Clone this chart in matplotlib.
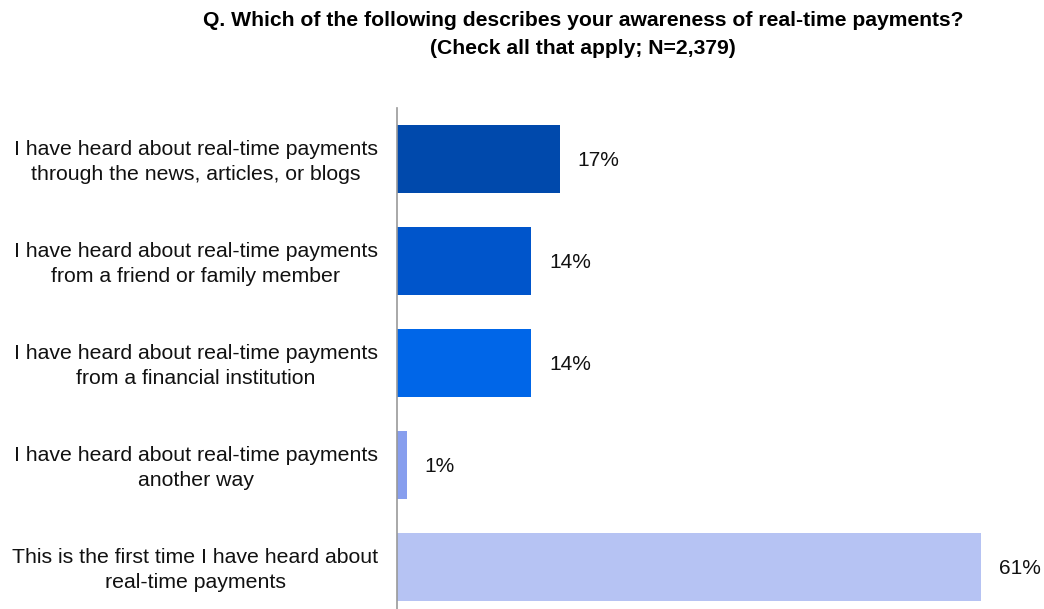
import matplotlib
matplotlib.use("Agg")
import matplotlib.pyplot as plt

categories = [
    "I have heard about real-time payments\nthrough the news, articles, or blogs",
    "I have heard about real-time payments\nfrom a friend or family member",
    "I have heard about real-time payments\nfrom a financial institution",
    "I have heard about real-time payments\nanother way",
    "This is the first time I have heard about\nreal-time payments",
]
values = [17, 14, 14, 1, 61]
value_labels = ["17%", "14%", "14%", "1%", "61%"]
colors = ["#0049AC", "#0055CB", "#0066E8", "#879EEE", "#B6C3F3"]

title = ("Q. Which of the following describes your awareness of real-time payments?\n"
         "(Check all that apply; N=2,379)")

W, H = 1044, 609
fig = plt.figure(figsize=(W / 100, H / 100), dpi=100)
fig.patch.set_facecolor("white")

# axes from the baseline line at x=397 to the right edge
left_px, top_px, bottom_px = 397, 108, 618
ax = fig.add_axes([left_px / W, (H - bottom_px) / H, (W - left_px) / W, (bottom_px - top_px) / H])

n = len(values)
pos = list(range(n))
ax.barh(pos, values, height=0.667, color=colors, zorder=2)
ax.set_ylim(n - 0.5, -0.5)
ax.set_xlim(0, 67.6)

for p, v, lab in zip(pos, values, value_labels):
    ax.annotate(lab, xy=(v, p), xycoords="data",
                xytext=(18, -1), textcoords="offset pixels",
                va="center", ha="left", fontsize=15,
                family=["Liberation Sans", "DejaVu Sans"], color="#111111")

for s in ["top", "right", "bottom"]:
    ax.spines[s].set_visible(False)
ax.spines["left"].set_color("#999999")
ax.spines["left"].set_linewidth(1.2)
ax.set_xticks([])
ax.set_yticks([])

# category labels, centred in the left margin
for p, cat in zip(pos, categories):
    ax.annotate(cat, xy=(0, p), xycoords=("axes fraction", "data"),
                xytext=(195.5 - left_px, -3), textcoords="offset pixels",
                ha="center", va="center", multialignment="center",
                fontsize=15.3, linespacing=1.45,
                family=["Liberation Sans", "DejaVu Sans"], color="#111111")

fig.text(583 / W, 1 - 35 / H, title, ha="center", va="center", fontsize=15.2,
         fontweight="bold", linespacing=1.6,
         family=["Liberation Sans Narrow", "Liberation Sans", "DejaVu Sans"], color="#000000")

fig.savefig("out.png", dpi=100)
